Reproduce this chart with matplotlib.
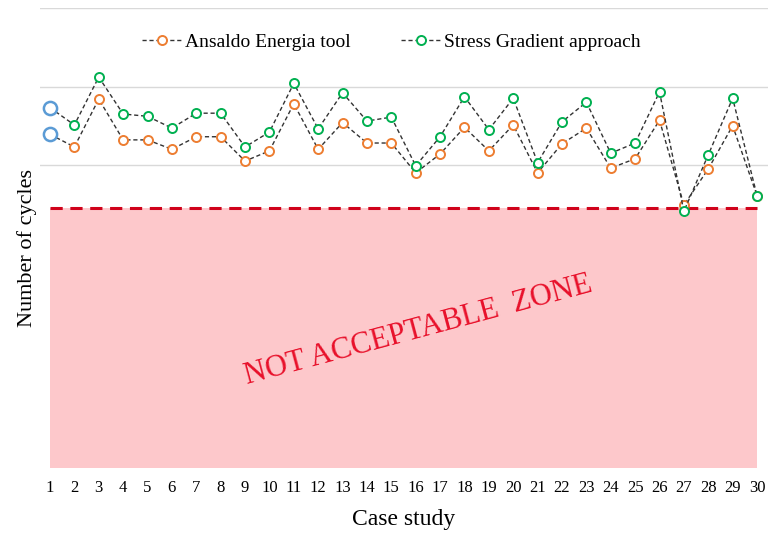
import numpy as np
import matplotlib.pyplot as plt

plt.rcParams['font.family'] = ['Liberation Serif', 'DejaVu Serif']

# data (arbitrary units, axis has no values)
cases = np.arange(1, 31)
ansaldo = [4.39, 4.23, 4.84, 4.32, 4.32, 4.20, 4.36, 4.36, 4.05, 4.18,
           4.78, 4.20, 4.54, 4.28, 4.28, 3.90, 4.14, 4.48, 4.18, 4.51,
           3.90, 4.27, 4.47, 3.96, 4.08, 4.57, 3.49, 3.95, 4.50, 3.61]
stress_grad = [4.73, 4.51, 5.12, 4.65, 4.62, 4.47, 4.66, 4.66, 4.23, 4.42,
               5.04, 4.46, 4.92, 4.56, 4.61, 3.99, 4.36, 4.87, 4.45, 4.85,
               4.03, 4.55, 4.80, 4.15, 4.28, 4.93, 3.41, 4.13, 4.85, 3.61]
limit = 3.45
zone_bottom = 0.14

ORANGE = '#ED7D31'
GREEN = '#00B050'
BLUE = '#5B9BD5'

fig = plt.figure(figsize=(7.68, 5.4), dpi=100)
ax = fig.add_axes([40/768, 61/540, 728/768, 471/540])

# not acceptable zone
ax.fill_between([1, 30], zone_bottom, limit, color='#FDC8CB', zorder=2, lw=0)
ax.plot([1, 30], [limit, limit], color='#D0021B', lw=2.2, ls=(0, (4, 2.5)), zorder=3)
ax.text(16.1, 1.9, 'NOT ACCEPTABLE  ZONE', color='#E8102A', fontsize=22,
        rotation=15, ha='center', va='center', zorder=4)

l1, = ax.plot(cases, ansaldo, color='#333333', lw=1, ls=(0, (3, 2)),
              marker='o', ms=6.5, mfc='white', mec=ORANGE, mew=1.4, zorder=5)
l2, = ax.plot(cases, stress_grad, color='#333333', lw=1, ls=(0, (3, 2)),
              marker='o', ms=6.5, mfc='white', mec=GREEN, mew=1.4, zorder=5)
# first case highlighted in blue
ax.plot([cases[0]] * 2, [ansaldo[0], stress_grad[0]], ls='none', marker='o',
        ms=9.5, mfc='white', mec=BLUE, mew=1.8, zorder=6)

ax.set_xlim(0.59, 30.45)
ax.set_ylim(0, 6)
ax.set_xticks(cases)
ax.set_yticks([4, 5, 6])
ax.set_yticklabels([])
ax.tick_params(length=0, labelsize=12, pad=1)
ax.grid(axis='y', color='#D9D9D9', lw=1, zorder=0)
for s in ax.spines.values():
    s.set_visible(False)

ax.set_xlabel('Case study', fontsize=17, labelpad=9)
fig.text(27/768, 1 - 248/540, 'Number of cycles', rotation=90, fontsize=16,
         ha='center', va='center')

fig.legend([l1, l2], ['Ansaldo Energia tool', 'Stress Gradient approach'],
           loc='center', bbox_to_anchor=(0.51, 1 - 42/540), ncol=2, frameon=False,
           fontsize=14, handlelength=2.0, handletextpad=0.2, columnspacing=2.6)

fig.savefig('out.png', dpi=100)
